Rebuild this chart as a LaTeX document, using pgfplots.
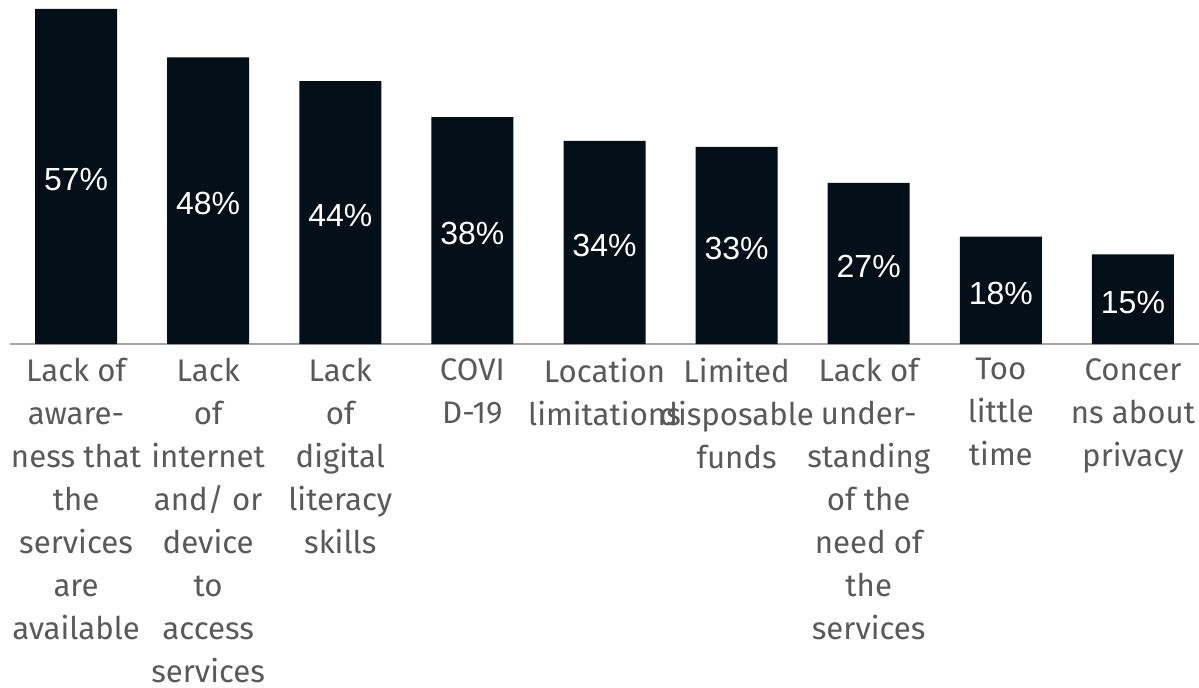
\documentclass[border=0pt]{standalone}
\usepackage{pgfplots}
\pgfplotsset{compat=1.18}
\usepackage{fontspec}
\setmainfont{Fira Sans}
\newfontfamily\pctfont{Liberation Sans}
\definecolor{barc}{HTML}{03101A}
\definecolor{labc}{HTML}{595959}
\definecolor{axc}{HTML}{A6A6A6}
\begin{document}
\begin{tikzpicture}
\begin{axis}[
  scale only axis,
  width=594.5pt, height=172pt,
  xmin=-0.5, xmax=8.5,
  ymin=0, ymax=57.6,
  axis x line*=bottom,
  axis y line=none,
  x axis line style={draw=axc, line width=1pt},
  xtick={0,1,2,3,4,5,6,7,8},
  major tick length=0pt,
  xticklabels={
    {Lack of\\aware-\\ness that\\the\\services\\are\\available},
    {Lack\\of\\internet\\and/ or\\device\\to\\access\\services},
    {Lack\\of\\digital\\literacy\\skills},
    {COVI\\D-19},
    {Location\\limitations},
    {Limited\\disposable\\funds},
    {Lack of\\under-\\standing\\of the\\need of\\the\\services},
    {Too\\little\\time},
    {Concer\\ns about\\privacy}},
  x tick label style={align=center, anchor=north, text=labc,
    font=\fontsize{15.6}{21.5}\selectfont, inner sep=0pt, yshift=-7pt},
  ybar, bar width=41pt,
  clip=false,
]
\addplot[fill=barc, draw=none,
  point meta=explicit symbolic,
  nodes near coords,
  visualization depends on=rawy\as\rawy,
  every node near coord/.append style={anchor=center, text=white,
    font=\pctfont\fontsize{16}{18}\selectfont,
    yshift={-1.493pt*\rawy-1.5pt}}]
coordinates {
  (0,56.1) [57\%]
  (1,48) [48\%]
  (2,44) [44\%]
  (3,38) [38\%]
  (4,34) [34\%]
  (5,33) [33\%]
  (6,27) [27\%]
  (7,18) [18\%]
  (8,15) [15\%]
};
\end{axis}
\pgfresetboundingbox
\path (-5pt,-171.5pt) rectangle (594.5pt,172pt);
\end{tikzpicture}
\end{document}
